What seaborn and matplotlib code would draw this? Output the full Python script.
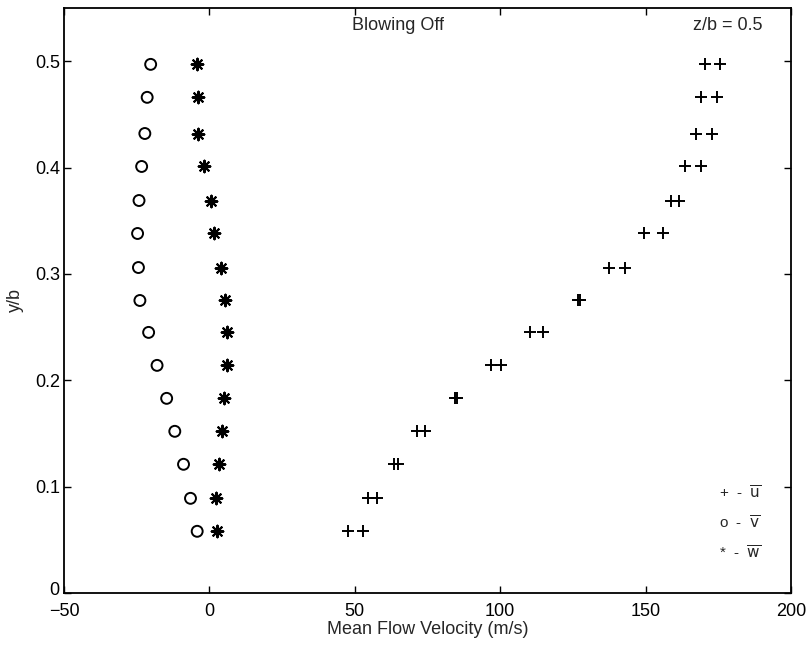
import matplotlib.pyplot as plt
import matplotlib.transforms as mtransforms
import seaborn as sns
import numpy as np
import pandas as pd

# valori (y/b e velocita' medie in m/s)
y_b = [0.497, 0.466, 0.432, 0.401, 0.369, 0.338, 0.306, 0.275,
       0.245, 0.214, 0.183, 0.152, 0.121, 0.089, 0.058]
u_1 = [170.3, 169.2, 167.4, 163.7, 158.8, 149.3, 137.3, 126.7,
       110.3, 96.8, 84.5, 71.3, 63.6, 54.7, 47.6]
u_2 = [175.7, 174.6, 172.9, 169.1, 161.4, 156.0, 143.0, 127.5,
       114.7, 100.3, 85.3, 74.2, 65.0, 57.6, 52.7]
v_mean = [-20.2, -21.4, -22.2, -23.3, -24.2, -24.7, -24.4, -23.9,
          -20.9, -18.0, -14.7, -11.9, -8.9, -6.5, -4.2]
w_mean = [-4.4, -4.0, -3.9, -2.0, 0.4, 1.5, 4.1, 5.2,
          6.1, 5.9, 5.0, 4.2, 3.4, 2.2, 2.5]

x_ticks = [-50, 0, 50, 100, 150, 200]
y_ticks = [0, 0.1, 0.2, 0.3, 0.4, 0.5]

sns.set_theme(style="ticks")
plt.rcParams["font.family"] = ["Liberation Sans", "DejaVu Sans"]

fig = plt.figure(figsize=(8.08, 6.5), dpi=100)
ax = fig.add_axes([0.0792, 0.0877, 0.8998, 0.9000])

sns.scatterplot(x=u_1, y=y_b, ax=ax, marker="+", s=80, color="black", linewidth=1.4)
sns.scatterplot(x=u_2, y=y_b, ax=ax, marker="+", s=80, color="black", linewidth=1.4)
sns.scatterplot(x=v_mean, y=y_b, ax=ax, marker="o", s=62, color="black",
                facecolor="none", edgecolor="black", linewidth=1.4)
sns.scatterplot(x=w_mean, y=y_b, ax=ax, marker=(8, 2, 0), s=70, color="black",
                linewidth=1.5)

ax.set_xlim(-50, 200)
ax.set_ylim(0, 0.55)
ax.set_xticks(x_ticks)
ax.set_yticks(y_ticks)
ax.set_yticklabels(["0", "0.1", "0.2", "0.3", "0.4", "0.5"])
ax.tick_params(direction="in", top=True, right=True, length=5, width=1,
               labelsize=13, colors="black")
ax.tick_params(axis="x", pad=7)
ax.tick_params(axis="y", pad=3)
for s in ax.spines.values():
    s.set_linewidth(1.3)
    s.set_color("black")

# sposta un poco in alto lo "0" dell'asse y per non toccare "-50"
lab0 = ax.get_yticklabels()[0]
lab0.set_transform(lab0.get_transform() + mtransforms.ScaledTranslation(0, 4 / 100, fig.dpi_scale_trans))

ax.set_xlabel("Mean Flow Velocity (m/s)", fontsize=13, labelpad=1)
ax.set_ylabel("y/b", fontsize=13, labelpad=8)

ax.text(0.459, 0.985, "Blowing Off", transform=ax.transAxes, ha="center", va="top", fontsize=13)
ax.text(0.913, 0.985, "z/b = 0.5", transform=ax.transAxes, ha="center", va="top", fontsize=13)

ax.text(0.93, 0.171, r"+  -  $\overline{\mathrm{u}}$", transform=ax.transAxes, ha="center", va="center", fontsize=11)
ax.text(0.93, 0.12, r"o  -  $\overline{\mathrm{v}}$", transform=ax.transAxes, ha="center", va="center", fontsize=11)
ax.text(0.93, 0.068, r"*  -  $\overline{\mathrm{w}}$", transform=ax.transAxes, ha="center", va="center", fontsize=11)

plt.savefig("out.png", dpi=100)
